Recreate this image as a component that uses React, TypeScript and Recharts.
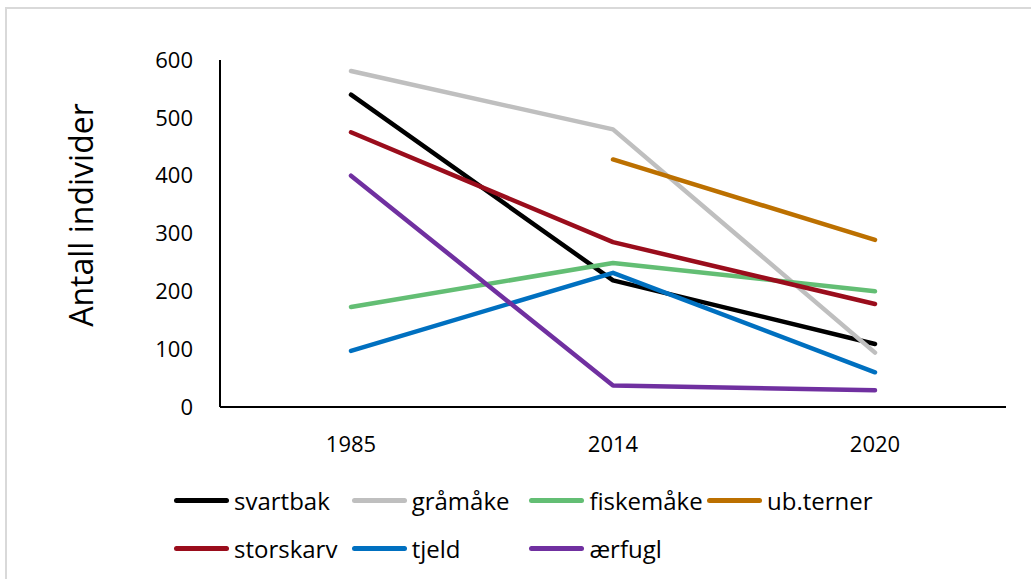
import { Label, Line, LineChart, XAxis, YAxis } from 'recharts';

const years = ['1985', '2014', '2020'];
const svartbak = [540, 219, 109];
const graamaake = [581, 480, 94];
const fiskemaake = [173, 249, 200];
const ubTerner = [null, 428, 289];
const storskarv = [475, 285, 178];
const tjeld = [97, 232, 60];
const aerfugl = [400, 37, 29];
const yTicks = [0, 100, 200, 300, 400, 500, 600];

const series = [
  { key: 'svartbak', values: svartbak, color: '#000000' },
  { key: 'gråmåke', values: graamaake, color: '#bfbfbf' },
  { key: 'fiskemåke', values: fiskemaake, color: '#63be74' },
  { key: 'ub.terner', values: ubTerner, color: '#bc7000' },
  { key: 'storskarv', values: storskarv, color: '#9a0d1c' },
  { key: 'tjeld', values: tjeld, color: '#0070c0' },
  { key: 'ærfugl', values: aerfugl, color: '#7030a0' },
];

const data = years.map((year, i) => {
  const row: Record<string, string | number | null> = { year };
  series.forEach((s) => {
    row[s.key] = s.values[i];
  });
  return row;
});

const FONT = '"Open Sans", "Noto Sans", sans-serif';

function LegendGrid() {
  return (
    <div
      style={{
        position: 'absolute',
        left: 174,
        top: 484,
        display: 'grid',
        gridTemplateColumns: 'repeat(4, 177.7px)',
        rowGap: 16,
        fontFamily: FONT,
        fontSize: 24,
        color: '#000',
      }}
    >
      {series.map((s) => (
        <div key={s.key} style={{ display: 'flex', alignItems: 'center', height: 32 }}>
          <span
            style={{
              display: 'inline-block',
              width: 55,
              height: 5,
              borderRadius: 3,
              background: s.color,
              marginRight: 5,
              flex: 'none',
            }}
          />
          <span style={{ whiteSpace: 'nowrap' }}>{s.key}</span>
        </div>
      ))}
    </div>
  );
}

export default function App() {
  return (
    <div
      style={{
        position: 'absolute',
        left: 0,
        top: 0,
        width: 1031,
        height: 579,
        background: '#fff',
        overflow: 'hidden',
      }}
    >
      <div
        style={{
          position: 'absolute',
          left: 5,
          top: 7,
          width: 1100,
          height: 700,
          border: '2px solid #d9d9d9',
        }}
      />
      <div style={{ position: 'absolute', left: 0, top: 0 }}>
        <LineChart
          width={1031}
          height={579}
          data={data}
          margin={{ top: 60, right: 25, bottom: 112, left: 160 }}
        >
          <XAxis
            dataKey="year"
            padding={{ left: 131, right: 131 }}
            axisLine={{ stroke: '#000', strokeWidth: 2 }}
            tickLine={false}
            tickSize={0}
            tickMargin={29}
            tick={{ fill: '#000', fontSize: 22, fontFamily: FONT }}
            height={60}
          />
          <YAxis
            domain={[0, 600]}
            ticks={yTicks}
            interval={0}
            width={60}
            axisLine={{ stroke: '#000', strokeWidth: 2 }}
            tickLine={false}
            tickSize={0}
            tickMargin={27}
            tick={{ fill: '#000', fontSize: 22, fontFamily: FONT }}
          >
            <Label
              content={() => (
                <text
                  x={80}
                  y={215}
                  transform="rotate(-90 80 215)"
                  textAnchor="middle"
                  dominantBaseline="central"
                  fontSize={32}
                  fontFamily={FONT}
                  fill="#000"
                >
                  Antall individer
                </text>
              )}
            />
          </YAxis>
          {series.map((s) => (
            <Line
              key={s.key}
              dataKey={s.key}
              stroke={s.color}
              strokeWidth={4.5}
              strokeLinecap="round"
              strokeLinejoin="round"
              dot={false}
              activeDot={false}
              isAnimationActive={false}
            />
          ))}
        </LineChart>
      </div>
      <LegendGrid />
    </div>
  );
}
